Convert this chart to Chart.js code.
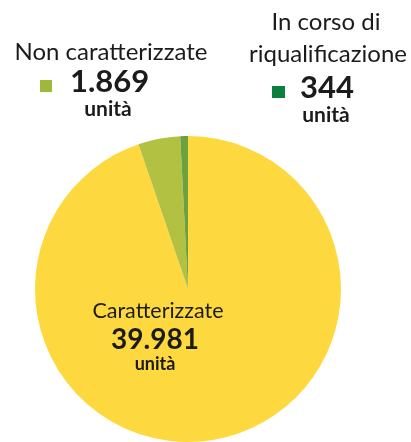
<!DOCTYPE html>
<html>
<head>
<meta charset="utf-8">
<script src="https://cdn.jsdelivr.net/npm/chart.js@4.4.0/dist/chart.umd.min.js"></script>
<style>
  html, body { margin: 0; padding: 0; background: #fff; }
  #wrap { position: relative; width: 411px; height: 442px; }
</style>
</head>
<body>
<div id="wrap"><canvas id="pieChart"></canvas></div>
<script>
// Pie data: units by status
const categories = ['Caratterizzate', 'Non caratterizzate', 'In corso di riqualificazione'];
const unitCounts = [39981, 1869, 344];
const sliceColors = ['#FED83F', '#B2C142', '#6BA23F'];
const legendColors = ['#FED83F', '#9DB83A', '#0B7F3D'];

// format like the source: dot as thousands separator
function fmt(n) {
    return n.toString().replace(/\B(?=(\d{3})+(?!\d))/g, '.');
}

// text labels around / inside the pie
const labelPlugin = {
    id: 'labels',
    afterDraw(chart) {
        const c = chart.ctx;
        c.save();
        c.fillStyle = '#1b1b1b';
        c.textAlign = 'center';
        c.textBaseline = 'alphabetic';

        // Caratterizzate (inside)
        c.font = '21.5px Lato';
        c.fillText(categories[0], 158, 318);
        c.font = 'bold 28px Lato';
        c.fillText(fmt(unitCounts[0]), 155, 349);
        c.font = 'bold 18px Lato';
        c.fillText('unità', 155, 370);

        // Non caratterizzate (top left)
        c.font = '24px Lato';
        c.fillText(categories[1], 111, 60);
        c.fillStyle = legendColors[1];
        c.fillRect(40, 80, 12, 12);
        c.fillStyle = '#1b1b1b';
        c.textAlign = 'left';
        c.font = 'bold 31px Lato';
        c.fillText(fmt(unitCounts[1]), 70, 92);
        c.textAlign = 'center';
        c.font = 'bold 21px Lato';
        c.fillText('unità', 108, 116);

        // In corso di riqualificazione (top right)
        c.font = '24px Lato';
        c.fillText('In corso di', 326, 30);
        c.fillText('riqualificazione', 328, 62);
        c.fillStyle = legendColors[2];
        c.fillRect(272, 86, 13, 12);
        c.fillStyle = '#1b1b1b';
        c.textAlign = 'left';
        c.font = 'bold 31px Lato';
        c.fillText(fmt(unitCounts[2]), 300, 98);
        c.textAlign = 'center';
        c.font = 'bold 21px Lato';
        c.fillText('unità', 326, 122);
        c.restore();
    }
};

new Chart(document.getElementById('pieChart'), {
    type: 'pie',
    data: {
        labels: categories,
        datasets: [{
            data: unitCounts,
            backgroundColor: sliceColors,
            borderWidth: 0
        }]
    },
    options: {
        responsive: true,
        maintainAspectRatio: false,
        animation: false,
        layout: {
            padding: { left: 35, right: 70, top: 136, bottom: 0 }
        },
        plugins: {
            legend: { display: false },
            tooltip: { enabled: false }
        }
    },
    plugins: [labelPlugin]
});
</script>
</body>
</html>
